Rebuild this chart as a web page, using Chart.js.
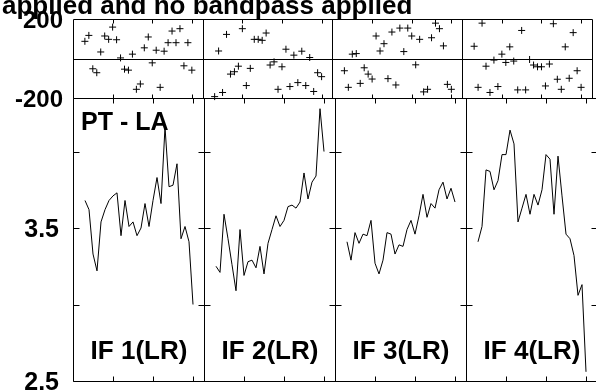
<!DOCTYPE html>
<html>
<head>
<meta charset="utf-8">
<script src="https://cdn.jsdelivr.net/npm/chart.js@4.4.1/dist/chart.umd.min.js"></script>
<style>
  html, body { margin: 0; padding: 0; background: #fff; }
  #wrap { position: relative; width: 596px; height: 391px; overflow: hidden; }
  #wrap canvas { position: absolute; left: 0; top: 0; }
</style>
</head>
<body>
<div id="wrap">
  <canvas id="ampChart" width="596" height="391" style="width:596px;height:391px"></canvas>
  <canvas id="phaseChart" width="596" height="391" style="width:596px;height:391px"></canvas>
</div>
<script>
// ── Data ──
const channels = [3, 4, 5, 6, 7, 8, 9, 10, 11, 12, 13, 14, 15, 16, 17, 18, 19, 20, 21, 22, 23, 24, 25, 26, 27, 28, 29, 30];
const ifLabels = ['IF 1(LR)', 'IF 2(LR)', 'IF 3(LR)', 'IF 4(LR)'];

const phaseIF1 = [87, 117, -52, -72, 33, 114, 97, 159, 95, 3, -54, -59, 22, -156, -129, 54, 109, -22, 42, -146, 37, 80, 139, 80, 151, -37, 80, -59];
const phaseIF2 = [-193, 38, -172, 122, -79, -67, -39, 151, -137, -50, 97, 97, 92, 129, -33, -17, -156, -42, 47, -142, 17, -122, 37, -137, 5, -167, -72, -92];
const phaseIF3 = [-62, -146, 22, 25, -126, -47, -79, -104, 114, 38, 75, -102, 134, -134, 154, 35, 154, 114, -32, 97, -169, -156, 105, 179, 151, 64, -131, -156];
const phaseIF4 = [62, -146, 179, -39, -172, -8, -142, 22, -20, 59, -13, -159, 142, -159, -5, -33, -42, -42, -139, -28, 176, -105, -156, 59, -100, 131, -62, -146];

const ampIF1 = [3.68, 3.62, 3.33, 3.22, 3.54, 3.62, 3.68, 3.71, 3.73, 3.45, 3.68, 3.51, 3.54, 3.45, 3.50, 3.66, 3.51, 3.68, 3.83, 3.66, 4.16, 3.77, 3.78, 3.92, 3.43, 3.51, 3.41, 3.00];
const ampIF2 = [3.25, 3.21, 3.59, 3.43, 3.26, 3.09, 3.49, 3.19, 3.28, 3.29, 3.24, 3.38, 3.20, 3.40, 3.49, 3.58, 3.51, 3.55, 3.64, 3.65, 3.63, 3.67, 3.86, 3.69, 3.80, 3.84, 4.28, 4.00];
const ampIF3 = [3.41, 3.29, 3.47, 3.40, 3.46, 3.45, 3.55, 3.27, 3.20, 3.29, 3.47, 3.46, 3.33, 3.39, 3.38, 3.49, 3.55, 3.46, 3.58, 3.72, 3.57, 3.66, 3.63, 3.75, 3.80, 3.69, 3.76, 3.67];
const ampIF4 = [3.41, 3.51, 3.88, 3.87, 3.75, 3.81, 3.98, 3.98, 4.14, 4.05, 3.54, 3.63, 3.72, 3.59, 3.72, 3.65, 3.75, 3.98, 3.95, 3.59, 3.97, 3.71, 3.46, 3.43, 3.32, 3.06, 3.13, 2.56];

const phaseSeries = [phaseIF1, phaseIF2, phaseIF3, phaseIF4];
const ampSeries = [ampIF1, ampIF2, ampIF3, ampIF4];

const channelTicks = [10, 20, 30];
const phaseTickLabels = ['200', '-200'];
const phaseTickValues = [200, -200];
const ampTickMarks = [2.5, 3.0, 3.5, 4.0];
const ampTickLabels = ['3.5', '2.5'];
const ampTickValues = [3.5, 2.5];

const COL_W = 32.75;   // channels per IF panel
const X_MAX = 130.75;
const AMP_MIN = 2.5, AMP_MAX = 4.35;

const FONT = '"Liberation Sans", Arial, Helvetica, sans-serif';

// ── helpers ──
const px = v => Math.round(v) + 0.5;
function hLine(ctx, x1, x2, y) { ctx.beginPath(); ctx.moveTo(x1, y); ctx.lineTo(x2, y); ctx.stroke(); }
function vLine(ctx, x, y1, y2) { ctx.beginPath(); ctx.moveTo(x, y1); ctx.lineTo(x, y2); ctx.stroke(); }
function colEdges(xs) { return [0, 1, 2, 3, 4].map(i => px(xs.getPixelForValue(i * COL_W))); }

function drawFrame(ctx, chart, opts) {
  const { chartArea: a, scales: { x, y } } = chart;
  const top = px(a.top), bot = px(a.bottom);
  const edges = colEdges(x);
  ctx.strokeStyle = '#000';
  ctx.lineWidth = 1;
  hLine(ctx, edges[0], edges[4], top);
  hLine(ctx, edges[0], edges[4], bot);
  edges.forEach(ex => vLine(ctx, ex, top, bot));
  for (let i = 0; i < 4; i++) {
    channelTicks.forEach(c => {
      const tx = px(x.getPixelForValue(i * COL_W + c));
      vLine(ctx, tx, top, top + opts.tickLen);
      vLine(ctx, tx, bot - opts.tickLen, bot);
    });
  }
  (opts.yTicks || []).forEach(v => {
    const ty = px(y.getPixelForValue(v));
    edges.forEach((ex, i) => hLine(ctx, i === 0 ? ex : ex - 6, i === 4 ? ex : ex + 6, ty));
  });
}

const phaseFrame = {
  id: 'phaseFrame',
  afterDraw(chart) {
    const { ctx, chartArea: a, scales: { x, y } } = chart;
    ctx.save();
    drawFrame(ctx, chart, { tickLen: 4 });
    const z = px(y.getPixelForValue(0));
    hLine(ctx, px(a.left), colEdges(x)[4], z);

    ctx.fillStyle = '#000';
    ctx.font = 'bold 26px ' + FONT;
    ctx.textAlign = 'left';
    ctx.textBaseline = 'alphabetic';
    ctx.fillText('applied and no bandpass applied', 2, 13.5);

    ctx.font = 'bold 24px ' + FONT;
    ctx.textAlign = 'right';
    phaseTickValues.forEach((v, i) => {
      ctx.fillText(phaseTickLabels[i], 63, y.getPixelForValue(v) + 9);
    });
    ctx.restore();
  }
};

const ampFrame = {
  id: 'ampFrame',
  afterDraw(chart) {
    const { ctx, chartArea: a, scales: { x, y } } = chart;
    ctx.save();
    drawFrame(ctx, chart, { tickLen: 5, yTicks: ampTickMarks });

    ctx.fillStyle = '#000';
    ctx.textBaseline = 'alphabetic';
    ctx.font = 'bold 25px ' + FONT;
    ctx.textAlign = 'right';
    ampTickValues.forEach((v, i) => {
      ctx.fillText(ampTickLabels[i], 59, y.getPixelForValue(v) + 9);
    });

    ctx.textAlign = 'left';
    ctx.fillText('PT - LA', 81, 129.5);

    ctx.font = 'bold 26px ' + FONT;
    ctx.textAlign = 'center';
    ifLabels.forEach((lbl, i) => {
      const cx = (x.getPixelForValue(i * COL_W) + x.getPixelForValue((i + 1) * COL_W)) / 2 + 0.5;
      ctx.fillText(lbl, cx, 358.5);
    });
    ctx.restore();
  }
};

const baseOptions = (pad, yMin, yMax) => ({
  responsive: false,
  animation: false,
  events: [],
  layout: { padding: pad },
  plugins: { legend: { display: false }, tooltip: { enabled: false }, title: { display: false } },
  scales: {
    x: { type: 'linear', min: 0, max: X_MAX, display: false },
    y: { type: 'linear', min: yMin, max: yMax, display: false }
  }
});

// ── Amplitude (lines) ──
new Chart(document.getElementById('ampChart'), {
  type: 'line',
  data: {
    datasets: ampSeries.map((amp, i) => ({
      data: channels.map((c, k) => ({ x: i * COL_W + c, y: amp[k] })),
      borderColor: '#000',
      borderWidth: 1,
      pointRadius: 0,
      tension: 0,
      fill: false,
      clip: false
    }))
  },
  options: baseOptions({ left: 73, top: 98, right: 0, bottom: 10 }, AMP_MIN, AMP_MAX),
  plugins: [ampFrame]
});

// ── Phase (crosses) ──
new Chart(document.getElementById('phaseChart'), {
  type: 'scatter',
  data: {
    datasets: phaseSeries.map((ph, i) => ({
      data: channels.map((c, k) => ({ x: i * COL_W + c, y: ph[k] })),
      showLine: false,
      pointStyle: 'cross',
      pointRadius: 3.5,
      borderColor: '#000',
      borderWidth: 1,
      clip: false
    }))
  },
  options: baseOptions({ left: 73, top: 19, right: 0, bottom: 293 }, -200, 200),
  plugins: [phaseFrame]
});
</script>
</body>
</html>
